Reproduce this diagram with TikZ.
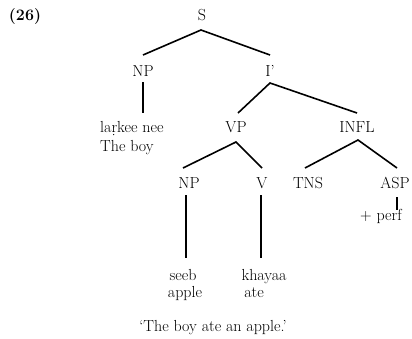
\documentclass[tikz,border=0pt]{standalone}
\usetikzlibrary{calc}
\begin{document}
\begin{tikzpicture}[x=1pt,y=-1pt,
  lbl/.style={anchor=base,inner sep=0pt,font=\fontsize{16}{19}\selectfont},
  words/.style={lbl,align=left},
  branch/.style={line width=1.6pt}]
\useasboundingbox (0,0) rectangle (412,338);
% example number
\node[lbl] (num) at (25,20) {\textbf{(26)}};
% categories
\node[lbl] (S)    at (202,20)  {S};
\node[lbl] (NPa)  at (143,76)  {NP};
\node[lbl] (Ibar) at (270,76)  {I'};
\node[lbl] (VP)   at (236,132) {VP};
\node[lbl] (INFL) at (357,132) {INFL};
\node[lbl] (NPb)  at (189,188) {NP};
\node[lbl] (V)    at (262,188) {V};
\node[lbl] (TNS)  at (308,188) {TNS};
\node[lbl] (ASP)  at (395,188) {ASP};
% terminals
\node[lbl,anchor=base west] (subj) at (100,132) {la\d{r}kee nee};
\node[lbl,anchor=base west] (subjg) at (100,151) {The boy};
\node[lbl] (perf)  at (381,220) {+ perf};
\node[lbl] (obj)   at (183,280) {seeb};
\node[lbl] (objg)  at (185,297) {apple};
\node[lbl] (verb)  at (264,280) {khayaa};
\node[lbl] (verbg) at (254,297) {ate};
\node[lbl] (gloss) at (213,331) {`The boy ate an apple.'};
% branches
\draw[branch] ($(NPa.base)+(0,-21)$) -- ($(S.base)+(-1,10)$) -- ($(Ibar.base)+(0,-21)$);
\draw[branch] ($(NPa.base)+(0,6)$) -- ($(subj.base west)+(43,-19)$);
\draw[branch] ($(VP.base)+(2,-19)$) -- ($(Ibar.base)+(0,7)$) -- ($(INFL.base)+(0,-19)$);
\draw[branch] ($(NPb.base)+(-6,-20)$) -- ($(VP.base)+(0,10)$) -- ($(V.base)+(0,-20)$);
\draw[branch] ($(TNS.base)+(-3,-20)$) -- ($(INFL.base)+(1,8)$) -- ($(ASP.base)+(2,-20)$);
\draw[branch] ($(ASP.base)+(2,9)$) -- ($(perf.base)+(16,-10)$);
\draw[branch] ($(NPb.base)+(-3,7)$) -- ($(obj.base)+(3,-22)$);
\draw[branch] ($(V.base)+(-1,7)$) -- ($(verb.base)+(-3,-22)$);
\end{tikzpicture}
\end{document}
